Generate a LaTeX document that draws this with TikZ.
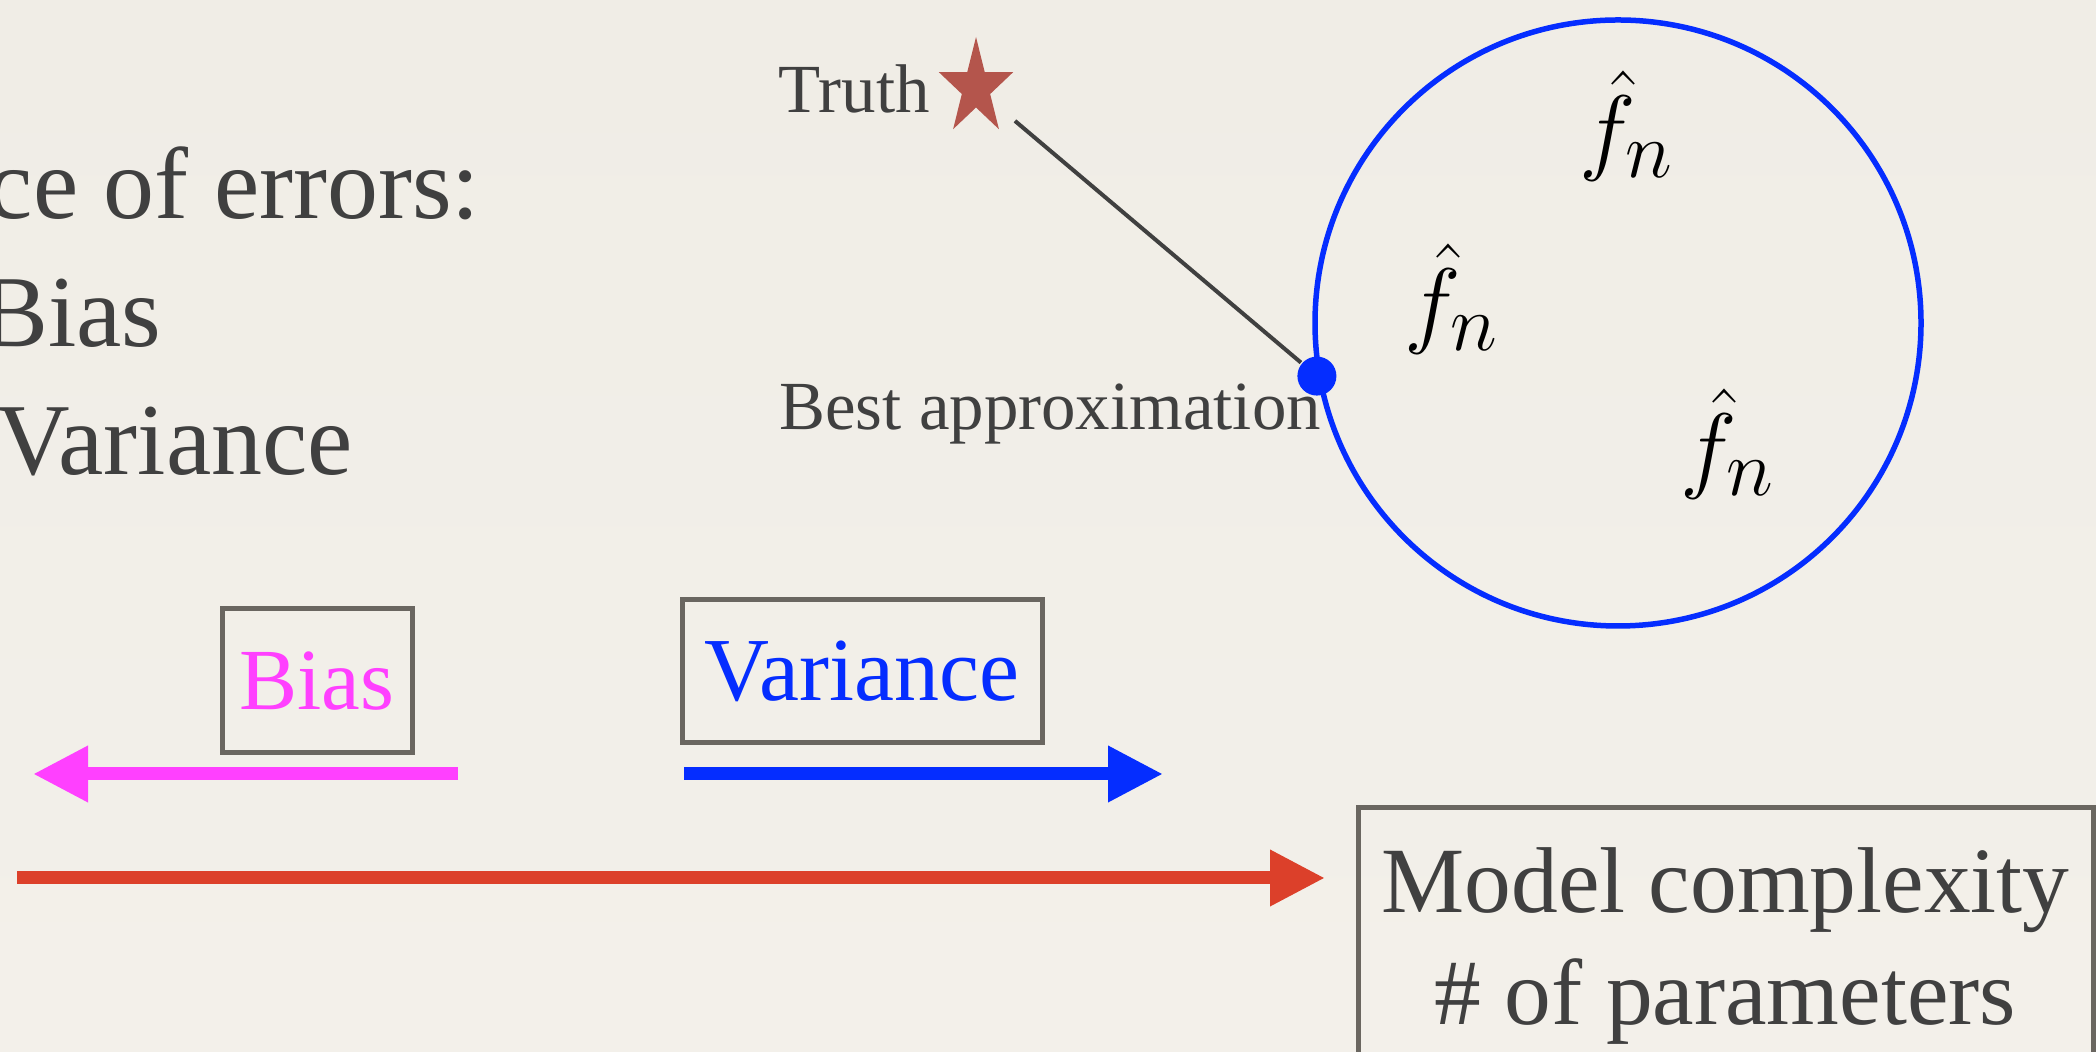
\documentclass[tikz,border=0pt]{standalone}
\usepackage{fontspec}
\setmainfont{Liberation Serif}
\usetikzlibrary{arrows.meta}

\definecolor{inkgray}{RGB}{64,64,64}
\definecolor{framegray}{RGB}{106,102,96}
\definecolor{setblue}{RGB}{5,45,255}
\definecolor{biaspink}{RGB}{255,64,255}
\definecolor{axisred}{RGB}{220,64,42}
\definecolor{truthred}{RGB}{180,85,76}

\newcommand{\fhat}{\scalebox{1.097}{\fontsize{24.88}{30}\selectfont$\hat{f}_n$}}

\tikzset{
  bigtext/.style={text=inkgray, inner sep=0pt, font=\fontsize{29}{34}\selectfont},
  smalltext/.style={text=inkgray, inner sep=0pt, font=\fontsize{19.6}{23}\selectfont},
  estim/.style={inner sep=0pt},
  frame/.style={draw=framegray, line width=0.05cm},
  fat/.style={line width=0.13cm, -{Triangle[length=0.55cm,width=0.53cm]}},
}

\begin{document}
\begin{tikzpicture}[thick]
  \useasboundingbox (0,0) rectangle (20.96,-10.52);
  \shade[top color={rgb,255:red,240;green,237;blue,230},
         middle color={rgb,255:red,226;green,223;blue,217},
         bottom color={rgb,255:red,243;green,240;blue,234}]
    (0,0) rectangle (20.96,-10.52);

  % clipped bullet text
  \node[bigtext, anchor=base east] (errs) at (4.815,-2.19) {ce of errors:};
  \node[bigtext, anchor=base east] (bias) at (1.63,-3.47) {Bias};
  \node[bigtext, anchor=base east] (vari) at (3.54,-4.75) {Variance};

  % truth and the model set
  \coordinate (truth) at (9.76,-0.88);
  \begin{scope}[shift={(truth)}, xscale=0.39, yscale=0.51]
    \fill[truthred] (90:1) -- (126:0.382) -- (162:1) -- (198:0.382) -- (234:1)
      -- (270:0.382) -- (306:1) -- (342:0.382) -- (18:1) -- (54:0.382) -- cycle;
  \end{scope}
  \node[smalltext, anchor=base east] (truthlbl) at (9.31,-1.13) {Truth};

  \node[draw=setblue, line width=0.055cm, circle, minimum size=6.06cm, inner sep=0pt]
    (fset) at (16.18,-3.23) {};
  \node[fill=setblue, circle, minimum size=0.39cm, inner sep=0pt] (best) at (fset.190) {};
  \draw[black!75, line width=0.04cm, shorten <=0.51cm] (truth) -- (best);
  \node[smalltext, anchor=base west] (bestlbl) at (7.78,-4.30) {Best approximation};

  \node[estim] (f1) at (16.27,-1.26) {\fhat};
  \node[estim] (f2) at (14.52,-2.99) {\fhat};
  \node[estim] (f3) at (17.28,-4.44) {\fhat};

  % bias / variance boxes
  \node[frame, minimum width=1.90cm, minimum height=1.44cm, text=biaspink,
        font=\fontsize{24.8}{29}\selectfont] (biasbox) at (3.17,-6.81) {Bias};
  \node[frame, minimum width=3.60cm, minimum height=1.43cm, text=setblue,
        font=\fontsize{25.6}{30}\selectfont] (varbox) at (8.62,-6.715) {Variance};

  \coordinate (b0) at (4.58,-7.74);
  \coordinate (b1) at (0.33,-7.74);
  \coordinate (v0) at (6.84,-7.74);
  \coordinate (v1) at (11.63,-7.74);
  \draw[fat, biaspink] (b0) -- (b1);
  \draw[fat, setblue] (v0) -- (v1);

  % complexity axis
  \node[frame, anchor=north, minimum width=7.35cm, inner ysep=0.4cm, align=center,
        text=inkgray, font=\fontsize{26.6}{31.9}\selectfont] (model) at (17.255,-8.055)
    {Model complexity\\\# of parameters};
  \coordinate (a0) at (0.17,-8.78);
  \coordinate (a1) at (13.25,-8.78);
  \draw[fat, axisred] (a0) -- (a1);
\end{tikzpicture}
\end{document}
